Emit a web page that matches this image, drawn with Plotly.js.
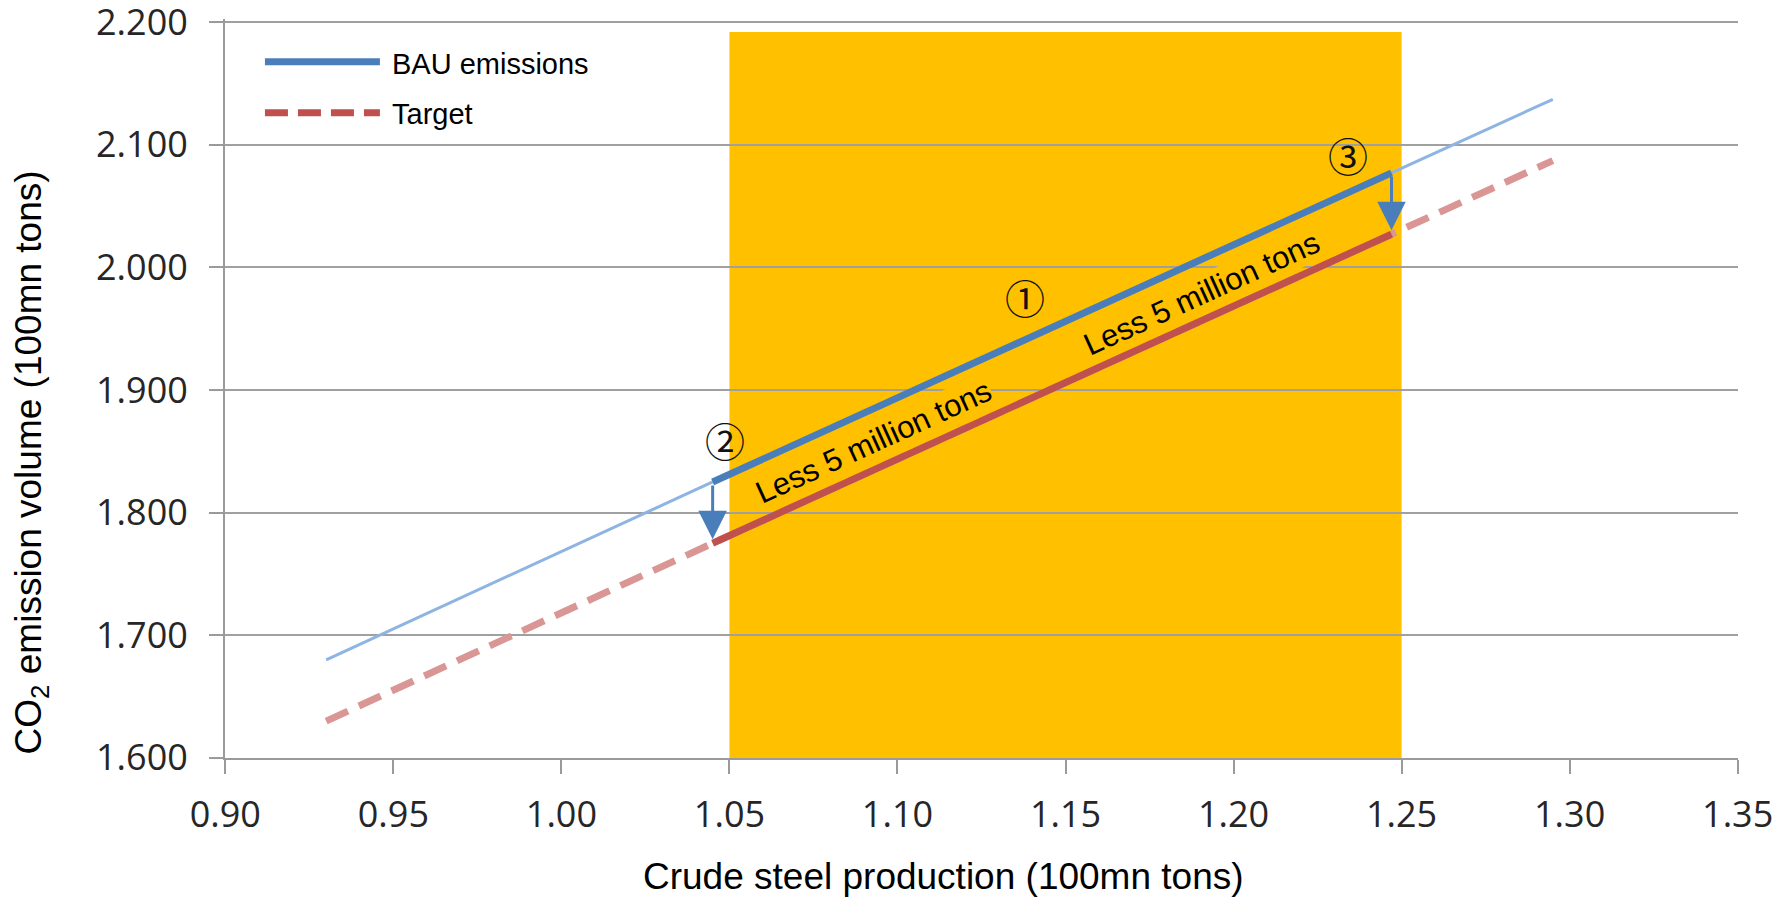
<!DOCTYPE html>
<html><head><meta charset="utf-8">
<script src="https://cdn.plot.ly/plotly-3.0.1.min.js"></script>
<style>html,body{margin:0;padding:0;background:#fff;}#chart{width:1791px;height:897px;}</style>
</head><body><div id="chart"></div>
<script>
// ---- data ----
const crudeSteel      = [0.93, 1.045, 1.247, 1.295];   // 100mn tons
const bauEmissions    = [1.680, 1.825, 2.077, 2.137];  // 100mn tons CO2
const targetEmissions = [1.630, 1.775, 2.027, 2.087];  // 100mn tons CO2
const focusStart = 1, focusEnd = 3;                    // slice of the highlighted segment
const highlightRange = [1.05, 1.25];
const highlightTop = 2.192;
const xTickVals = [0.90, 0.95, 1.00, 1.05, 1.10, 1.15, 1.20, 1.25, 1.30, 1.35];
const yTickVals = [1.6, 1.7, 1.8, 1.9, 2.0, 2.1, 2.2];
const stepLabels = ['①', '②', '③'];
const stepX = [1.138, 1.0487, 1.234];
const stepY = [1.976, 1.859, 2.092];
const reductionLabel = 'Less 5 million tons';
const reductionX = [1.093, 1.1905];
const reductionY = [1.858, 1.979];
const seriesNames = ['BAU emissions', 'Target'];
const xTitle = 'Crude steel production (100mn tons)';
const yTitle = 'CO<sub>2</sub> emission volume (100mn tons)';

const BLUE = '#4A7EBB', BLUE_LIGHT = '#8DB4E2', RED = '#C0504D', RED_LIGHT = '#D99694', ORANGE = '#FFC000';
const ARIAL = 'Liberation Sans, Arial, sans-serif';

const traces = [
  {x: crudeSteel, y: bauEmissions, mode: 'lines', name: seriesNames[0], line: {color: BLUE_LIGHT, width: 3}, showlegend: false},
  {x: crudeSteel, y: targetEmissions, mode: 'lines', name: seriesNames[1], line: {color: RED_LIGHT, width: 7, dash: '24px,12px'}, showlegend: false},
  {x: crudeSteel.slice(focusStart, focusEnd), y: bauEmissions.slice(focusStart, focusEnd), mode: 'lines', name: seriesNames[0], line: {color: BLUE, width: 7}, showlegend: false},
  {x: crudeSteel.slice(focusStart, focusEnd), y: targetEmissions.slice(focusStart, focusEnd), mode: 'lines', name: seriesNames[1], line: {color: RED, width: 7}, showlegend: false}
];

const annotations = [];
// reduction arrows at the two ends of the highlighted segment
for (let i = focusStart; i < focusEnd; i++) {
  annotations.push({x: crudeSteel[i], y: targetEmissions[i], ax: crudeSteel[i], ay: bauEmissions[i],
    xref: 'x', yref: 'y', axref: 'x', ayref: 'y', text: '', showarrow: true,
    arrowhead: 2, arrowsize: 1.9, arrowwidth: 3, arrowcolor: BLUE, standoff: 4, startstandoff: 2});
}
for (let i = 0; i < stepLabels.length; i++) {
  annotations.push({x: stepX[i], y: stepY[i], xref: 'x', yref: 'y', text: stepLabels[i], showarrow: false,
    xanchor: 'center', yanchor: 'middle',
    font: {family: 'Noto Sans CJK JP', size: 40, color: '#111'}});
}
for (let i = 0; i < reductionX.length; i++) {
  annotations.push({x: reductionX[i], y: reductionY[i], xref: 'x', yref: 'y', text: reductionLabel, showarrow: false,
    xanchor: 'center', yanchor: 'middle',
    textangle: -24.5, bgcolor: ORANGE, borderpad: 0,
    font: {family: ARIAL, size: 31, color: '#000'}});
}
// axis titles
annotations.push({x: 0.4752, y: -0.1597, xref: 'paper', yref: 'paper', xanchor: 'center', yanchor: 'middle',
  text: xTitle, showarrow: false, font: {family: ARIAL, size: 37, color: '#000'}});
annotations.push({x: -0.1276, y: 0.3999, xref: 'paper', yref: 'paper', xanchor: 'center', yanchor: 'middle',
  text: yTitle, showarrow: false, textangle: -90, font: {family: ARIAL, size: 37, color: '#000'}});
// legend labels
annotations.push({x: 0.109, y: 0.9395, xref: 'paper', yref: 'paper', xanchor: 'left', yanchor: 'middle',
  text: seriesNames[0], showarrow: false, font: {family: ARIAL, size: 29, color: '#000'}});
annotations.push({x: 0.109, y: 0.8715, xref: 'paper', yref: 'paper', xanchor: 'left', yanchor: 'middle',
  text: seriesNames[1], showarrow: false, font: {family: ARIAL, size: 29, color: '#000'}});

const shapes = [
  {type: 'rect', xref: 'x', yref: 'y', x0: highlightRange[0], x1: highlightRange[1], y0: yTickVals[0], y1: highlightTop,
   fillcolor: ORANGE, line: {width: 0}, layer: 'below'},
  // white edge of the legend box overlapping the highlight
  {type: 'rect', xref: 'paper', yref: 'paper', x0: 0.3331, x1: 0.3364, y0: 0.8390, y1: 0.9689,
   fillcolor: '#fff', line: {width: 0}, layer: 'below'},
  // legend swatches
  {type: 'line', xref: 'paper', yref: 'paper', x0: 0.0264, x1: 0.1024, y0: 0.9422, y1: 0.9422,
   line: {color: BLUE, width: 7}, layer: 'above'},
  {type: 'line', xref: 'paper', yref: 'paper', x0: 0.0264, x1: 0.1024, y0: 0.8732, y1: 0.8732,
   line: {color: RED, width: 7, dash: '23px,10px'}, layer: 'above'}
];

const axisCommon = {
  showline: true, linecolor: '#9a9a9a', linewidth: 2,
  ticks: 'outside', ticklen: 14, tickwidth: 2, tickcolor: '#9a9a9a',
  zeroline: false, fixedrange: true, ticklabeloverflow: 'allow',
  tickfont: {family: 'Open Sans', size: 36, color: '#262626'}
};

const layout = {
  width: 1791, height: 897,
  margin: {l: 225, r: 53, t: 19, b: 139, pad: 0},
  paper_bgcolor: '#fff', plot_bgcolor: '#fff',
  showlegend: false,
  xaxis: Object.assign({}, axisCommon, {range: [0.8999, 1.3501], tickvals: xTickVals, tickformat: '.2f',
    showgrid: false, ticklabelstandoff: 10}),
  yaxis: Object.assign({}, axisCommon, {range: [1.5999, 2.2025], tickvals: yTickVals, tickformat: '.3f',
    showgrid: true, gridcolor: '#a0a0a0', gridwidth: 2, ticklabelstandoff: 14}),
  shapes: shapes,
  annotations: annotations
};

Plotly.newPlot('chart', traces, layout, {displayModeBar: false, staticPlot: true});
</script></body></html>
